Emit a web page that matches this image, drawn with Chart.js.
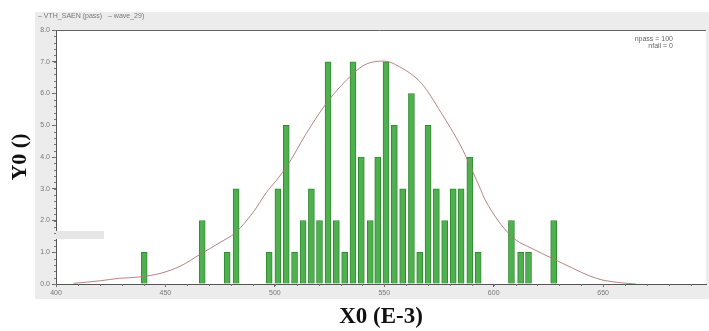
<!DOCTYPE html>
<html>
<head>
<meta charset="utf-8">
<script src="https://cdn.jsdelivr.net/npm/chart.js@4"></script>
<style>
  html, body { margin: 0; padding: 0; background: #fff; }
  #wrap { width: 709px; height: 331px; }
</style>
</head>
<body>
<div id="wrap"><canvas id="hist" width="709" height="331"></canvas></div>
<script>
// histogram bins (x0, E-3) and counts
var binCenters = [440.3, 466.8, 478.2, 482.3, 497.4, 501.4, 505.2, 509.0, 512.9, 516.7,
                  520.4, 524.3, 528.1, 531.9, 535.7, 539.5, 543.6, 547.0, 550.8, 554.6,
                  558.4, 562.4, 566.2, 570.0, 573.8, 577.6, 581.5, 585.1, 589.1, 592.9,
                  608.1, 612.3, 615.9, 627.4];
var binCounts = [1, 2, 1, 3, 1, 3, 5, 1, 2, 3,
                 2, 7, 2, 1, 7, 4, 2, 4, 7, 5,
                 3, 6, 1, 5, 3, 2, 3, 3, 4, 1,
                 2, 1, 1, 2];

// fitted curve, points
var fitX = [408, 420, 429, 438, 448, 457, 466, 475, 482, 490, 496, 501, 506, 514, 523,
            532, 541, 550, 557, 567, 576, 585, 589, 594, 596, 608, 618, 627, 636, 644,
            650, 658, 665];
var fitY = [0.02, 0.1, 0.18, 0.22, 0.34, 0.57, 0.94, 1.31, 1.62, 2.25, 2.87, 3.29, 3.76, 4.7, 5.64,
            6.37, 6.9, 7.02, 6.84, 6.32, 5.39, 4.34, 3.76, 2.98, 2.66, 1.51, 1.1, 0.8, 0.5, 0.25,
            0.12, 0.04, 0.0];

var xTicks = [400, 450, 500, 550, 600, 650];

var legendText = '\u2013 VTH_SAEN (pass)   \u2013 wave_29)';
var statLines = ['npass = 100', 'nfail = 0'];

var xTitle = 'X0 (E-3)';
var yTitle = 'Y0 ()';

var barData = binCenters.map(function (x, i) { return { x: x, y: binCounts[i] }; });
var fitData = fitX.map(function (x, i) { return { x: x, y: fitY[i] }; });

// grey frame, white plot, minor ticks and the little labels
var framePlugin = {
    id: 'frame',
    beforeDraw: function (chart) {
        var ctx = chart.ctx, a = chart.chartArea;
        ctx.save();
        ctx.fillStyle = '#ececec';
        ctx.fillRect(35, 12, 709 - 35, 299 - 12);
        ctx.fillStyle = '#ffffff';
        ctx.fillRect(a.left, a.top, a.right - a.left, a.bottom - a.top);
        ctx.restore();
    },
    afterDraw: function (chart) {
        var ctx = chart.ctx, a = chart.chartArea;
        var xs = chart.scales.x, ys = chart.scales.y;
        ctx.save();
        // top frame line
        ctx.strokeStyle = '#666';
        ctx.lineWidth = 1;
        ctx.beginPath();
        ctx.moveTo(a.left - 3, a.top + 0.5);
        ctx.lineTo(a.right, a.top + 0.5);
        ctx.stroke();

        // minor ticks
        ctx.strokeStyle = '#777';
        ctx.beginPath();
        for (var v = 0; v <= 8.001; v += 0.2) {
            var py = Math.round(ys.getPixelForValue(v)) + 0.5;
            ctx.moveTo(a.left - 2, py);
            ctx.lineTo(a.left, py);
        }
        for (var u = 400; u <= 697; u += 10) {
            var px = Math.round(xs.getPixelForValue(u)) + 0.5;
            ctx.moveTo(px, a.bottom);
            ctx.lineTo(px, a.bottom + 2);
        }
        ctx.stroke();

        // small grey box at left
        ctx.fillStyle = '#e6e6e6';
        ctx.fillRect(a.left, 231, 48, 8);

        // header legend line
        ctx.fillStyle = '#777';
        ctx.font = '7px "Liberation Sans", sans-serif';
        ctx.textBaseline = 'middle';
        ctx.textAlign = 'left';
        ctx.fillText(legendText, 38, 16);

        // npass / nfail
        ctx.textAlign = 'right';
        ctx.fillStyle = '#666';
        ctx.fillText(statLines[0], 673, 39);
        ctx.fillText(statLines[1], 673, 46);
        ctx.restore();
    }
};

var ctx = document.getElementById('hist').getContext('2d');
var myChart = new Chart(ctx, {
    data: {
        datasets: [{
            type: 'line',
            label: 'fit',
            data: fitData,
            borderColor: 'rgba(175,120,120,0.9)',
            borderWidth: 1,
            pointRadius: 0,
            cubicInterpolationMode: 'monotone',
            fill: false,
            order: 0
        }, {
            type: 'bar',
            label: 'VTH_SAEN (pass)',
            data: barData,
            backgroundColor: 'rgb(78,176,78)',
            borderColor: 'rgb(48,140,48)',
            borderWidth: 1,
            barThickness: 6,
            order: 1
        }]
    },
    options: {
        responsive: false,
        animation: false,
        layout: { padding: { top: 30, left: 0, right: 3, bottom: 0 } },
        plugins: {
            legend: { display: false },
            tooltip: { enabled: false }
        },
        scales: {
            x: {
                type: 'linear',
                min: 400,
                max: 697,
                offset: false,
                afterFit: function (s) { s.height = 47; s.paddingLeft = 0; s.paddingRight = 0; },
                afterBuildTicks: function (s) {
                    s.ticks = xTicks.map(function (v) { return { value: v }; });
                },
                ticks: {
                    color: '#777',
                    font: { family: 'Liberation Sans', size: 7 },
                    padding: 2,
                    maxRotation: 0,
                    autoSkip: false
                },
                grid: { drawOnChartArea: false, offset: false, tickLength: 3, color: '#666' },
                border: { display: true, color: '#555', width: 1 },
                title: {
                    display: true,
                    text: xTitle,
                    color: '#111',
                    font: { family: 'Liberation Serif', size: 23, weight: 'bold' },
                    padding: { top: 0, bottom: 0 }
                }
            },
            y: {
                min: 0,
                max: 8,
                afterFit: function (s) { s.width = 56; s.paddingTop = 0; s.paddingBottom = 0; },
                ticks: {
                    stepSize: 1,
                    color: '#777',
                    font: { family: 'Liberation Sans', size: 7 },
                    padding: 2,
                    callback: function (v) { return v.toFixed(1); }
                },
                grid: { drawOnChartArea: false, tickLength: 4, color: '#666' },
                border: { display: true, color: '#555', width: 1 },
                title: {
                    display: true,
                    text: yTitle,
                    color: '#111',
                    font: { family: 'Liberation Serif', size: 22, weight: 'bold' },
                    padding: { top: 7, bottom: 0 }
                }
            }
        }
    },
    plugins: [framePlugin]
});
</script>
</body>
</html>
